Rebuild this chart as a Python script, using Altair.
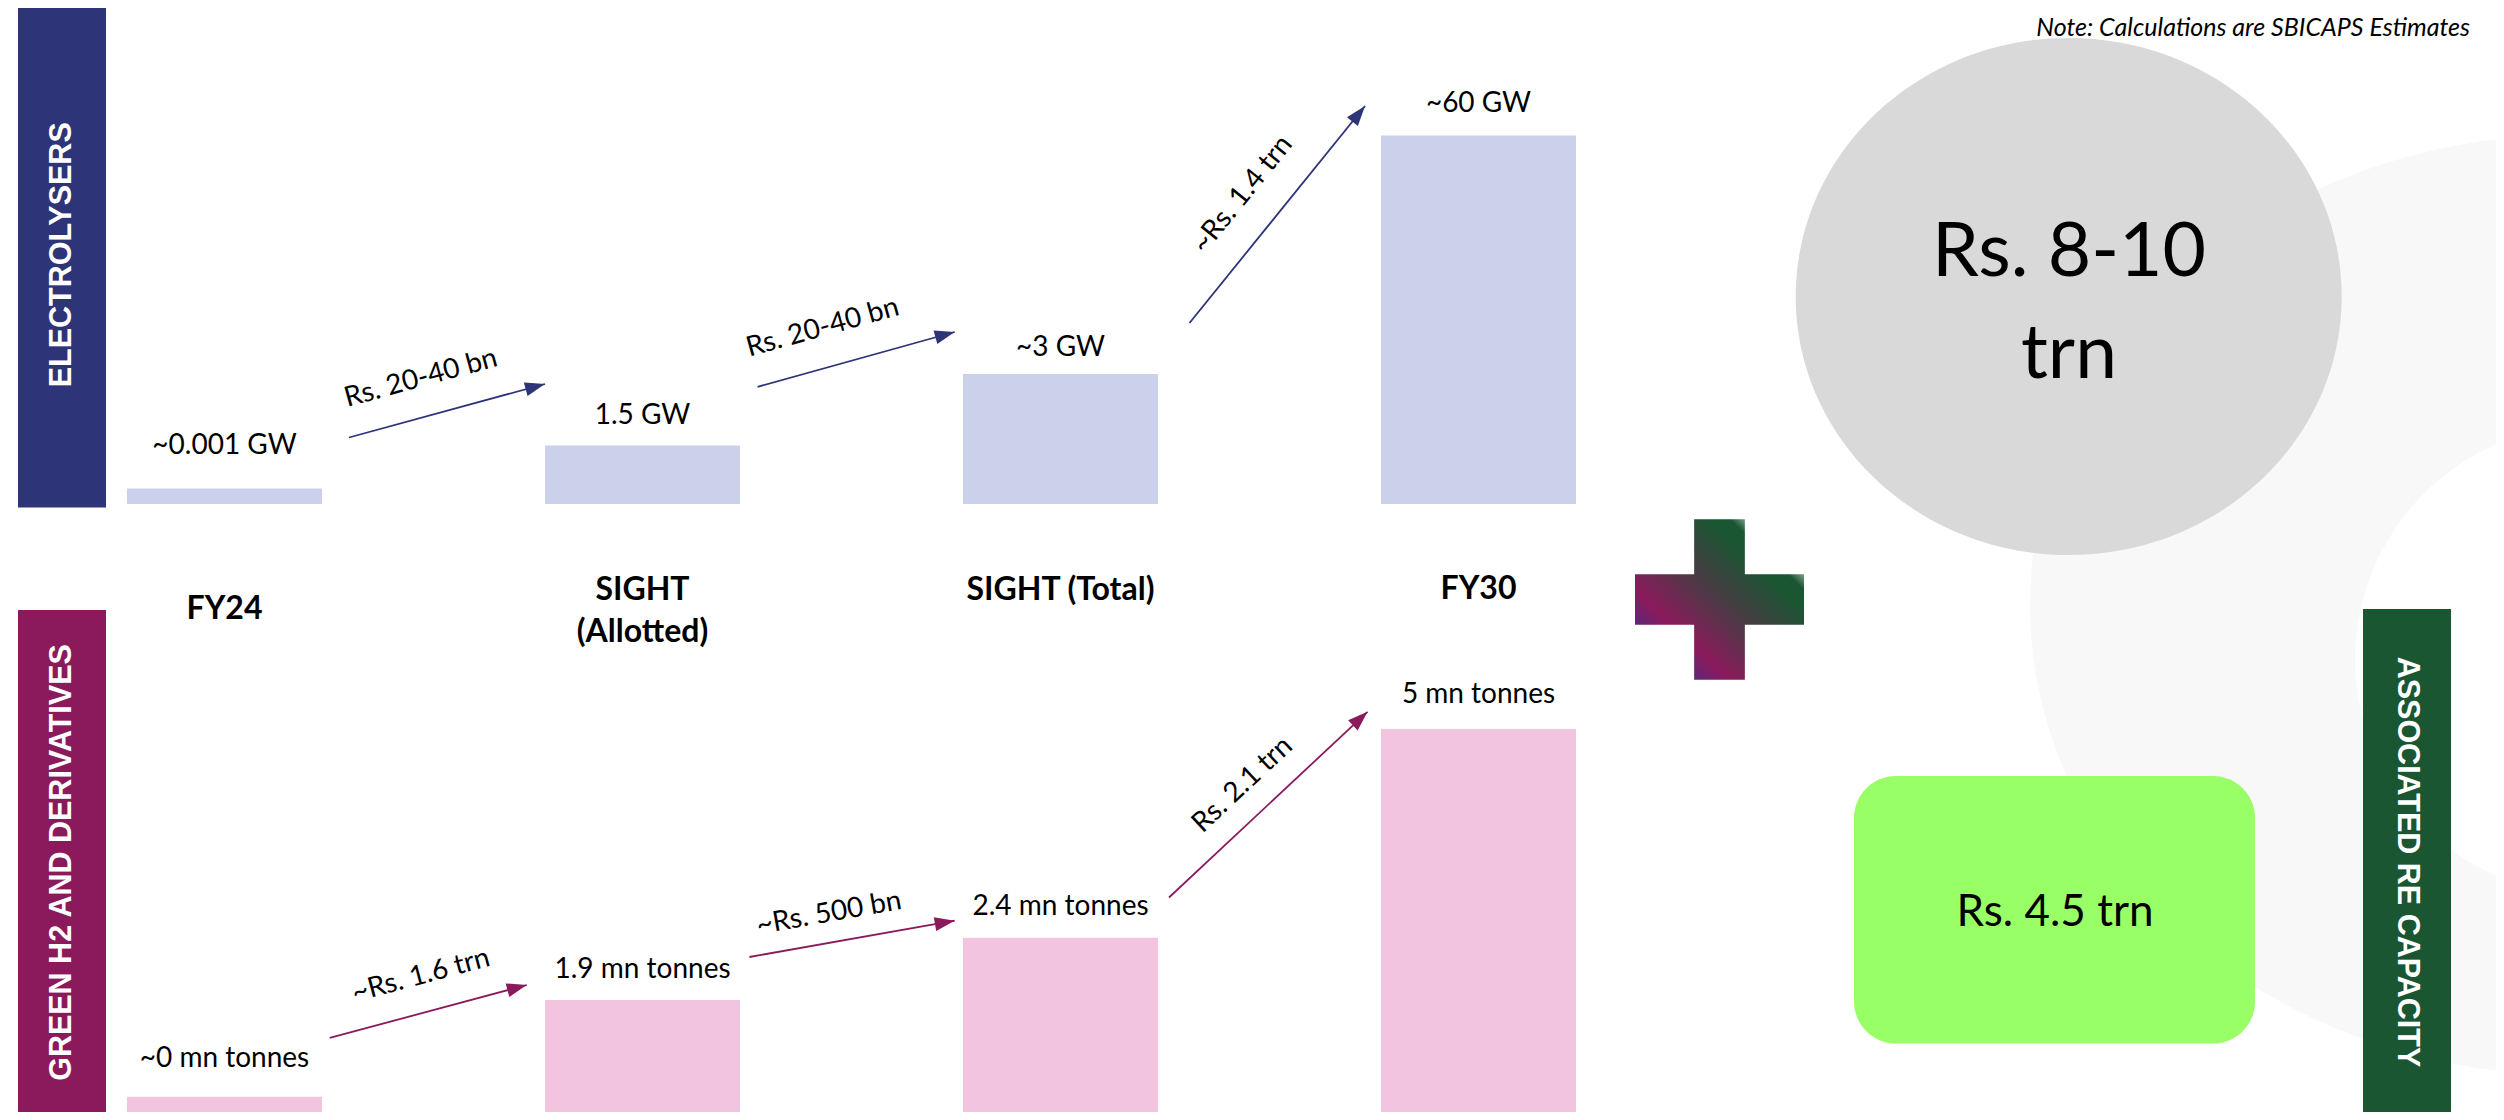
import math
import altair as alt
import pandas as pd

# ------------------------------------------------------------------ data
stages = ["FY24", "SIGHT (Allotted)", "SIGHT (Total)", "FY30"]
stage_titles = ["FY24", "SIGHT\n(Allotted)", "SIGHT (Total)", "FY30"]

electrolyser_labels = ["~0.001 GW", "1.5 GW", "~3 GW", "~60 GW"]
electrolyser_bar_height = [4.2, 15.9, 35.3, 100.0]   # drawn bar height, FY30 = 100

h2_labels = ["~0 mn tonnes", "1.9 mn tonnes", "2.4 mn tonnes", "5 mn tonnes"]
h2_bar_height = [4.7, 29.8, 45.9, 100.0]             # drawn bar height, FY30 = 100

electrolyser_investment = ["Rs. 20-40 bn", "Rs. 20-40 bn", "~Rs. 1.4 trn"]
h2_investment = ["~Rs. 1.6 trn", "~Rs. 500 bn", "Rs. 2.1 trn"]

total_investment = "Rs. 8-10\ntrn"
re_investment = "Rs. 4.5 trn"
segment_titles = ["ELECTROLYSERS", "GREEN H2 AND DERIVATIVES", "ASSOCIATED RE CAPACITY"]
note_text = "Note: Calculations are SBICAPS Estimates"

# ------------------------------------------------------------------ layout (page px; chart origin at 8,8)
OFF = 8
W, H = 2488, 1104


def px(v):
    return v - OFF


FONT = "Lato"
BANNER_FONT = "Liberation Sans"
NAVY = "#2E3478"
PLUM = "#8B1A5C"
FOREST = "#1A5632"

x_scale = alt.Scale(type="band", domain=stages, range=[px(127), px(127) + 1449],
                    paddingInner=0.5335, paddingOuter=0)
y_top = alt.Scale(domain=[0, 100], range=[px(504), px(504 - 368.6)])
y_bot = alt.Scale(domain=[0, 100], range=[px(1115), px(1115 - 386)])
label_gap_top = [35, 21, 18, 23]
label_gap_bot = [30, 22, 22.5, 26]
title_baseline = [619, 600, 600, 599]

top_arrows = [((349, 437.5), (545, 384), (421, 378.6)),
              ((757.6, 386.8), (954.7, 332), (822.7, 328)),
              ((1189.5, 323), (1365, 106), (1242.7, 194.6))]
bot_arrows = [((329.7, 1037.9), (526.8, 985), (421, 976)),
              ((749.4, 957), (954.7, 920.7), (829, 913.6)),
              ((1169, 897.5), (1367.5, 711.8), (1242.7, 785))]

banner_layout = [(18, 106, 2, 507.5, NAVY, 270),
                 (18, 106, 610, 1115, PLUM, 270),
                 (2363, 2451, 609, 1115, FOREST, 90)]

ELLIPSE = "M -1 0 A 1 0.947 0 1 1 1 0 A 1 0.947 0 1 1 -1 0 Z"
FAINT = "M -1 0 A 1 0.87 0 1 1 1 0 A 1 0.87 0 1 1 -1 0 Z"
PLUS = ("M -0.3 -0.95 L 0.3 -0.95 L 0.3 -0.3 L 1 -0.3 L 1 0.3 L 0.3 0.3 L 0.3 0.95 "
        "L -0.3 0.95 L -0.3 0.3 L -1 0.3 L -1 -0.3 L -0.3 -0.3 Z")
ARROW = "M 0 0 L -2 -0.7 L -2 0.7 Z"

one = pd.DataFrame({"k": [0]})
NOAX = dict(axis=None)

layers = []

# faint decorative ring in the background
layers.append(alt.Chart(one).mark_point(shape=FAINT, size=1080 ** 2, filled=True, opacity=1,
                                        strokeWidth=0, color="#F8F8F8").encode(
    x=alt.value(px(2570)), y=alt.value(px(605))))
layers.append(alt.Chart(one).mark_point(shape="circle", size=470 ** 2, filled=True, opacity=1,
                                        strokeWidth=0, color="white").encode(
    x=alt.value(px(2590)), y=alt.value(px(660))))

# total investment bubble
bubble = pd.DataFrame({"t": [total_investment]})
layers.append(alt.Chart(bubble).mark_point(shape=ELLIPSE, size=546 ** 2, filled=True, opacity=1,
                                           strokeWidth=0, color="#D9D9D9").encode(
    x=alt.value(px(2068.7)), y=alt.value(px(296.5))))
layers.append(alt.Chart(bubble).mark_text(font=FONT, fontSize=75, lineBreak="\n", lineHeight=102,
                                          align="center", baseline="alphabetic", color="black").encode(
    x=alt.value(px(2069)), y=alt.value(px(276)), text="t:N"))

# RE box
rebox = pd.DataFrame({"t": [re_investment]})
layers.append(alt.Chart(rebox).mark_rect(cornerRadius=42, color="#99FF66").encode(
    x=alt.value(px(1854)), x2=alt.value(px(2255)), y=alt.value(px(776)), y2=alt.value(px(1043.6))))
layers.append(alt.Chart(rebox).mark_text(font=FONT, fontSize=44, align="center", baseline="alphabetic",
                                         color="black").encode(
    x=alt.value(px(2055)), y=alt.value(px(926)), text="t:N"))

# banners
bdf = pd.DataFrame([dict(title=t, x1=px(a), x2=px(b), y1=px(c), y2=px(d), col=col, ang=ang,
                         tx=px((a + b) / 2), ty=px((c + d) / 2))
                    for t, (a, b, c, d, col, ang) in zip(segment_titles, banner_layout)])
layers.append(alt.Chart(bdf).mark_rect().encode(
    x=alt.X("x1:Q", scale=None, **NOAX), x2="x2:Q",
    y=alt.Y("y1:Q", scale=None, **NOAX), y2="y2:Q",
    color=alt.Color("col:N", scale=None, legend=None)))
layers.append(alt.Chart(bdf).mark_text(font=BANNER_FONT, fontWeight="bold", fontSize=30.5, color="white",
                                       align="center", baseline="middle").encode(
    x=alt.X("tx:Q", scale=None, **NOAX), y=alt.Y("ty:Q", scale=None, **NOAX),
    angle=alt.Angle("ang:Q", scale=None), text="title:N"))

# plus sign with gradient
grad = alt.LinearGradient(gradient="linear", x1=0, y1=1, x2=1, y2=0, stops=[
    alt.GradientStop(color="#5B2779", offset=0.17),
    alt.GradientStop(color="#8B1A5C", offset=0.28),
    alt.GradientStop(color="#4A3B44", offset=0.5),
    alt.GradientStop(color="#1A5632", offset=0.72),
    alt.GradientStop(color="#1A5632", offset=0.78),
    alt.GradientStop(color="#A8BFB0", offset=0.85),
])
layers.append(alt.Chart(one).mark_point(shape=PLUS, size=169 ** 2, filled=True, opacity=1,
                                        strokeWidth=0, color=grad).encode(
    x=alt.value(px(1719.5)), y=alt.value(px(599.5))))

# bars
edf = pd.DataFrame({"stage": stages, "v": electrolyser_bar_height, "label": electrolyser_labels})
hdf = pd.DataFrame({"stage": stages, "v": h2_bar_height, "label": h2_labels})
layers.append(alt.Chart(edf).mark_bar(color="#CBD0EB").encode(
    x=alt.X("stage:N", scale=x_scale, sort=stages, **NOAX),
    y=alt.Y("v:Q", scale=y_top, **NOAX)))
layers.append(alt.Chart(hdf).mark_bar(color="#F2C4E0").encode(
    x=alt.X("stage:N", scale=x_scale, sort=stages, **NOAX),
    y=alt.Y("v:Q", scale=y_bot, **NOAX)))

for i in range(len(stages)):
    layers.append(alt.Chart(edf.iloc[[i]]).mark_text(font=FONT, fontSize=28, align="center",
                                                     baseline="alphabetic", dy=-label_gap_top[i],
                                                     color="black").encode(
        x=alt.X("stage:N", scale=x_scale, sort=stages, **NOAX),
        y=alt.Y("v:Q", scale=y_top, **NOAX), text="label:N"))
    layers.append(alt.Chart(hdf.iloc[[i]]).mark_text(font=FONT, fontSize=28, align="center",
                                                     baseline="alphabetic", dy=-label_gap_bot[i],
                                                     color="black").encode(
        x=alt.X("stage:N", scale=x_scale, sort=stages, **NOAX),
        y=alt.Y("v:Q", scale=y_bot, **NOAX), text="label:N"))

# stage titles
tdf = pd.DataFrame({"stage": stages, "title": stage_titles, "yb": [px(v) for v in title_baseline]})
layers.append(alt.Chart(tdf).mark_text(font=FONT, fontWeight="bold", fontSize=32, lineBreak="\n",
                                       lineHeight=42, align="center", baseline="alphabetic",
                                       color="black").encode(
    x=alt.X("stage:N", scale=x_scale, sort=stages, **NOAX),
    y=alt.Y("yb:Q", scale=None, **NOAX), text="title:N"))

# investment arrows
rows = []
for labels, arrows, col in [(electrolyser_investment, top_arrows, NAVY), (h2_investment, bot_arrows, PLUM)]:
    for lab, (s, e, l) in zip(labels, arrows):
        ang = math.degrees(math.atan2(e[1] - s[1], e[0] - s[0])) % 360
        rows.append(dict(x1=px(s[0]), y1=px(s[1]), x2=px(e[0]), y2=px(e[1]),
                         lx=px(l[0]), ly=px(l[1]), ang=ang, label=lab, col=col))
adf = pd.DataFrame(rows)
layers.append(alt.Chart(adf).mark_rule(strokeWidth=1.8).encode(
    x=alt.X("x1:Q", scale=None, **NOAX), y=alt.Y("y1:Q", scale=None, **NOAX),
    x2="x2:Q", y2="y2:Q", color=alt.Color("col:N", scale=None, legend=None)))
layers.append(alt.Chart(adf).mark_point(shape=ARROW, size=400, filled=True, opacity=1, strokeWidth=0).encode(
    x=alt.X("x2:Q", scale=None, **NOAX), y=alt.Y("y2:Q", scale=None, **NOAX),
    angle=alt.Angle("ang:Q", scale=None), color=alt.Color("col:N", scale=None, legend=None)))
layers.append(alt.Chart(adf).mark_text(font=FONT, fontSize=28, align="center", baseline="middle",
                                       color="black").encode(
    x=alt.X("lx:Q", scale=None, **NOAX), y=alt.Y("ly:Q", scale=None, **NOAX),
    angle=alt.Angle("ang:Q", scale=None), text="label:N"))

# note (kept fully inside the chart so it stays readable)
layers.append(alt.Chart(pd.DataFrame({"t": [note_text]})).mark_text(
    font=FONT, fontStyle="italic", fontSize=25, align="right", baseline="alphabetic", color="black").encode(
    x=alt.value(px(2470)), y=alt.value(px(36)), text="t:N"))

chart = alt.layer(*layers).resolve_scale(x="independent", y="independent").properties(
    width=W, height=H, autosize=alt.AutoSizeParams(type="none"), padding=0, background="white"
).configure_view(stroke=None)

chart.save("out.html", embed_options={"renderer": "svg", "actions": False})
